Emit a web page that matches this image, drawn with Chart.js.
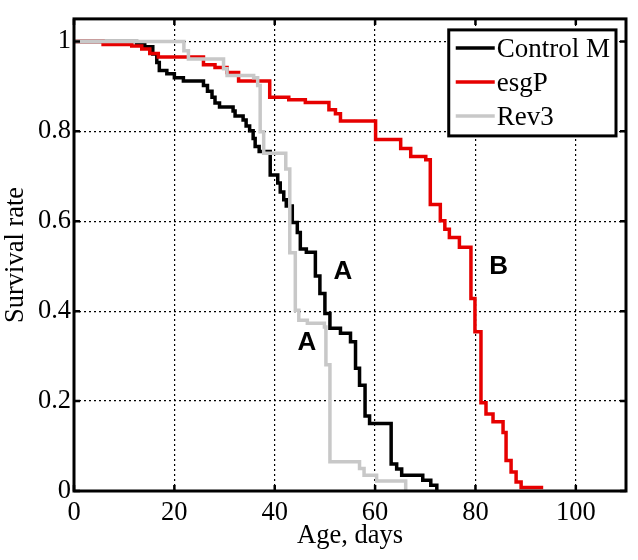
<!DOCTYPE html>
<html>
<head>
<meta charset="utf-8">
<script src="https://cdn.jsdelivr.net/npm/chart.js@4.4.0/dist/chart.umd.min.js"></script>
<style>
  html, body { margin: 0; padding: 0; background: #fff; }
</style>
</head>
<body>
<canvas id="chart" width="638" height="560"></canvas>
<script>
// Survival curves: each point = (day of a death, survival after it)
const controlDays = [0, 12.5, 14.1, 15.7, 16.5, 17.0, 18.5, 20.0, 21.8, 25.8, 26.6, 27.5, 28.1, 29.0,
  31.7, 32.1, 33.7, 34.3, 35.0, 35.7, 36.1, 36.9, 39.1, 40.6, 41.1, 41.8, 42.3, 43.5, 44.5, 45.1,
  46.3, 48.1, 49.0, 50.0, 51.0, 53.1, 55.1, 56.1, 56.9, 58.0, 58.9, 63.2, 64.3, 65.3, 69.5, 71.1, 72.3];
const controlSurv = [1, 0.995, 0.988, 0.972, 0.953, 0.935, 0.928, 0.919, 0.912, 0.902, 0.889, 0.876, 0.863, 0.854,
  0.845, 0.834, 0.825, 0.812, 0.801, 0.784, 0.766, 0.755, 0.703, 0.685, 0.665, 0.648, 0.634, 0.597, 0.575, 0.538,
  0.531, 0.478, 0.439, 0.395, 0.362, 0.351, 0.332, 0.273, 0.235, 0.167, 0.150, 0.060, 0.049, 0.035, 0.024, 0.013, 0];

const esgDays = [0, 5.8, 11.5, 13.5, 15.1, 16.8, 25.8, 28.1, 30.5, 32.8, 39.0, 42.8, 46.1, 50.8, 52.1, 53.1,
  60.1, 65.1, 67.1, 70.1, 71.0, 73.0, 73.9, 74.8, 76.8, 79.1, 79.9, 81.1, 82.1, 83.5, 85.5, 86.1, 87.1, 88.1, 89.1, 93.5];
const esgSurv = [1, 0.993, 0.990, 0.983, 0.973, 0.965, 0.948, 0.942, 0.931, 0.912, 0.876, 0.870, 0.864, 0.848, 0.839, 0.823,
  0.782, 0.762, 0.744, 0.737, 0.637, 0.601, 0.582, 0.564, 0.542, 0.428, 0.354, 0.196, 0.171, 0.154, 0.130, 0.068, 0.042, 0.020, 0.008, 0.008];

const revDays = [0, 21.9, 22.8, 29.8, 30.5, 35.8, 36.6, 37.1, 37.8, 42.2, 43.0, 44.1, 44.8, 46.5, 49.9, 50.2,
  51.0, 56.9, 57.8, 60.3, 66.1];
const revSurv = [1, 0.979, 0.961, 0.939, 0.924, 0.919, 0.902, 0.799, 0.751, 0.716, 0.530, 0.402, 0.380, 0.373, 0.365, 0.281,
  0.065, 0.050, 0.035, 0.022, 0];

const xTicks = [0, 20, 40, 60, 80, 100];
const yTicks = [0, 0.2, 0.4, 0.6, 0.8, 1];

// Group letters written next to the curves (data coordinates)
const letterText = ['A', 'A', 'B'];
const letterX = [53.6, 46.4, 84.6];
const letterY = [0.488, 0.329, 0.498];

const serif = '"Liberation Serif", "Times New Roman", serif';
const axisFont = { family: serif, size: 26.5 };

// Build {x,y} points from paired arrays
const toPoints = (days, surv) => days.map((d, i) => ({ x: d, y: surv[i] }));

const curve = (label, days, surv, color, order) => ({
  label,
  data: toPoints(days, surv),
  borderColor: color,
  backgroundColor: color,
  borderWidth: 3.5,
  stepped: 'before',
  pointRadius: 0,
  fill: false,
  borderJoinStyle: 'miter',
  borderCapStyle: 'butt',
  order
});

// Box, inward tick marks, legend and letters (MATLAB look)
const decorations = {
  id: 'decorations',
  afterDatasetsDraw(chart) {
    const { ctx, chartArea: ca, scales } = chart;
    ctx.save();

    // inward tick marks on all four sides
    ctx.strokeStyle = '#000';
    ctx.lineWidth = 2.5;
    ctx.beginPath();
    xTicks.forEach(v => {
      const px = scales.x.getPixelForValue(v);
      ctx.moveTo(px, ca.bottom); ctx.lineTo(px, ca.bottom - 6);
      ctx.moveTo(px, ca.top); ctx.lineTo(px, ca.top + 6);
    });
    yTicks.forEach(v => {
      const py = scales.y.getPixelForValue(v);
      ctx.moveTo(ca.left, py); ctx.lineTo(ca.left + 6, py);
      ctx.moveTo(ca.right, py); ctx.lineTo(ca.right - 6, py);
    });
    ctx.stroke();

    // axes box
    ctx.lineWidth = 3;
    ctx.strokeRect(ca.left, ca.top, ca.right - ca.left, ca.bottom - ca.top);

    // group letters
    ctx.fillStyle = '#000';
    ctx.font = 'bold 26px "Liberation Sans", Arial, sans-serif';
    ctx.textAlign = 'center';
    ctx.textBaseline = 'middle';
    letterText.forEach((t, i) => {
      ctx.fillText(t, scales.x.getPixelForValue(letterX[i]), scales.y.getPixelForValue(letterY[i]));
    });

    // legend (north-east, inside the axes)
    ctx.font = '27px ' + serif;
    const items = chart.data.datasets;
    const textW = Math.max(...items.map(ds => ctx.measureText(ds.label).width));
    const boxW = 48 + textW + 6;
    const boxH = 106;
    const bx = ca.right - 10 - boxW;
    const by = ca.top + 11;
    ctx.fillStyle = '#fff';
    ctx.fillRect(bx, by, boxW, boxH);
    ctx.lineWidth = 3;
    ctx.strokeStyle = '#000';
    ctx.strokeRect(bx, by, boxW, boxH);
    ctx.textAlign = 'left';
    items.forEach((ds, i) => {
      const ry = by + 18 + i * 34;
      ctx.strokeStyle = ds.borderColor;
      ctx.lineWidth = 3.5;
      ctx.beginPath();
      ctx.moveTo(bx + 7, ry);
      ctx.lineTo(bx + 46, ry);
      ctx.stroke();
      ctx.fillStyle = '#000';
      ctx.fillText(ds.label, bx + 48, ry + 2);
    });

    ctx.restore();
  }
};

new Chart(document.getElementById('chart'), {
  type: 'line',
  data: {
    datasets: [
      curve('Control M', controlDays, controlSurv, '#000000', 3),
      curve('esgP', esgDays, esgSurv, '#e60000', 2),
      curve('Rev3', revDays, revSurv, '#c8c8c8', 1)
    ]
  },
  options: {
    responsive: false,
    animation: false,
    layout: { padding: { top: 14, right: 12, left: 0, bottom: 0 } },
    plugins: {
      legend: { display: false },
      tooltip: { enabled: false }
    },
    scales: {
      x: {
        type: 'linear',
        min: 0,
        max: 110,
        afterBuildTicks: s => { s.ticks = xTicks.map(v => ({ value: v })); },
        afterFit: s => { s.height = 69; },
        ticks: { font: axisFont, color: '#000', padding: 6, maxRotation: 0, autoSkip: false },
        grid: { color: '#000', lineWidth: 1.2, drawTicks: false },
        border: { display: false, dash: [2, 3] },
        title: {
          display: true,
          text: 'Age, days',
          font: axisFont,
          color: '#000',
          padding: { top: 0, bottom: 8 }
        }
      },
      y: {
        type: 'linear',
        min: 0,
        max: 1.05,
        afterBuildTicks: s => { s.ticks = yTicks.map(v => ({ value: v })); },
        afterFit: s => { s.width = 74; },
        ticks: {
          font: axisFont,
          color: '#000',
          padding: 3,
          callback: v => (v === 0 ? '0' : v === 1 ? '1' : v.toFixed(1))
        },
        grid: { color: '#000', lineWidth: 1.2, drawTicks: false },
        border: { display: false, dash: [2, 3] },
        title: {
          display: true,
          text: 'Survival rate',
          font: axisFont,
          color: '#000',
          padding: { top: 0, bottom: 0 }
        }
      }
    }
  },
  plugins: [decorations]
});
</script>
</body>
</html>
